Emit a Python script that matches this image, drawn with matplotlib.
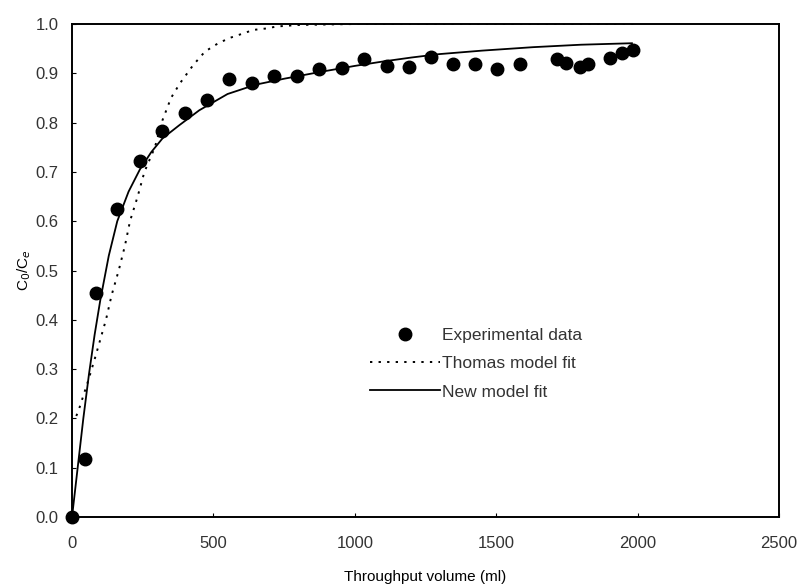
import matplotlib.pyplot as plt
from matplotlib.ticker import FormatStrFormatter

plt.rcParams['font.family'] = ['Liberation Sans', 'DejaVu Sans']

# experimental breakthrough points
vol_exp = [0, 46, 84, 160, 240, 319, 400, 479, 556, 638, 714, 795, 874, 954,
           1032, 1113, 1192, 1268, 1346, 1425, 1504, 1584, 1716, 1746, 1796,
           1826, 1902, 1944, 1985]
c_exp = [0.0, 0.117, 0.454, 0.624, 0.723, 0.782, 0.820, 0.845, 0.888, 0.880,
         0.894, 0.894, 0.909, 0.910, 0.930, 0.915, 0.913, 0.934, 0.919, 0.919,
         0.908, 0.919, 0.928, 0.920, 0.912, 0.919, 0.932, 0.942, 0.948]

# Thomas model fit
vol_thomas = [15, 22, 58, 81, 100, 120, 140, 165, 187, 205, 232, 256, 293, 320,
              350, 382, 429, 470, 517, 559, 606, 641, 688, 724, 800, 900, 1000,
              1500, 2000]
c_thomas = [0.205, 0.214, 0.278, 0.322, 0.36, 0.40, 0.45, 0.50, 0.55, 0.60,
            0.65, 0.70, 0.75, 0.805, 0.85, 0.88, 0.917, 0.944, 0.961, 0.972,
            0.981, 0.988, 0.991, 0.995, 0.998, 0.999, 1.0, 1.0, 1.0]

# new model fit
vol_new = [0, 20, 40, 60, 80, 100, 130, 160, 200, 240, 280, 320, 380, 450, 550,
           650, 750, 880, 1000, 1100, 1200, 1300, 1450, 1630, 1800, 1980]
c_new = [0.0, 0.10, 0.20, 0.29, 0.37, 0.44, 0.53, 0.60, 0.66, 0.705, 0.74,
         0.768, 0.795, 0.825, 0.858, 0.877, 0.889, 0.903, 0.915, 0.924, 0.932,
         0.939, 0.946, 0.953, 0.958, 0.961]

fig = plt.figure(figsize=(8.02, 5.84), dpi=100)
ax = fig.add_axes([0.0898, 0.1147, 0.8815, 0.8442])

ax.plot(vol_exp, c_exp, 'o', color='black', markersize=9, clip_on=False,
        label='Experimental data', zorder=3)
ax.plot(vol_thomas, c_thomas, color='black', linewidth=1.4,
        linestyle=(0, (1.2, 3.2)), label='Thomas model fit')
ax.plot(vol_new, c_new, color='black', linewidth=1.3, label='New model fit')

ax.set_xlim(0, 2500)
ax.set_ylim(0, 1.0)
ax.set_xticks([0, 500, 1000, 1500, 2000, 2500])
ax.set_yticks([i / 10 for i in range(11)])
ax.yaxis.set_major_formatter(FormatStrFormatter('%.1f'))
ax.tick_params(direction='in', length=3, labelsize=12, labelcolor='#333333')
ax.tick_params(axis='x', pad=14)
ax.tick_params(axis='y', pad=9.5)
for s in ax.spines.values():
    s.set_linewidth(1.4)

ax.set_xlabel('Throughput volume (ml)', fontsize=11, labelpad=13)
ax.set_ylabel('C$_0$/C$_e$', fontsize=11, labelpad=2)

ax.legend(loc='upper left', bbox_to_anchor=(0.40, 0.415), frameon=False,
          fontsize=12.5, handlelength=4.0, handletextpad=0.1, labelspacing=0.75,
          labelcolor='#333333')

fig.savefig('out.png', dpi=100)
